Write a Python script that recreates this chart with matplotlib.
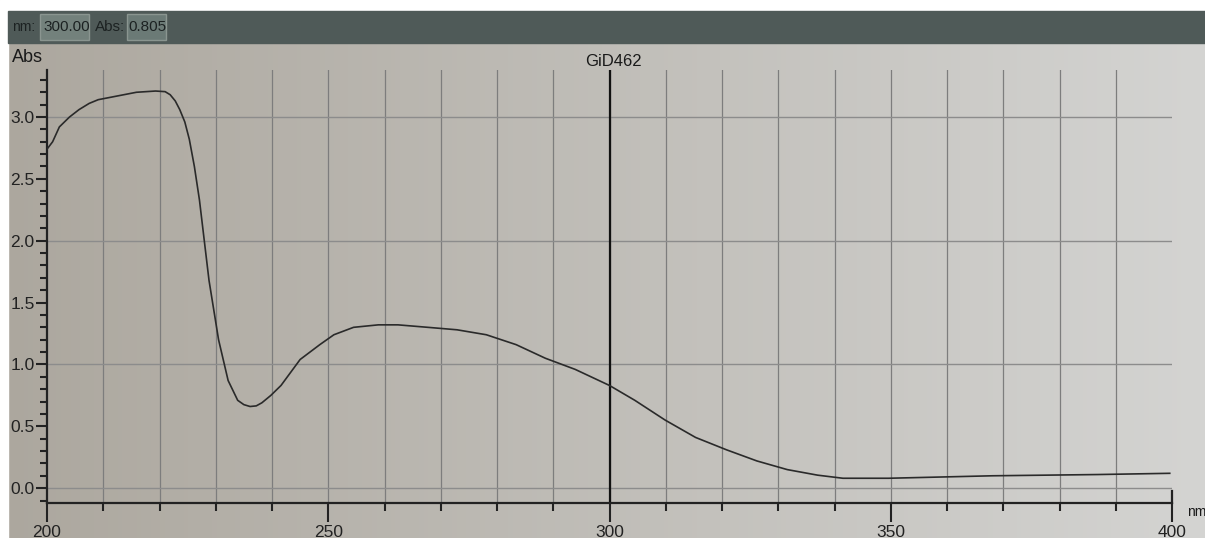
import numpy as np
import matplotlib
matplotlib.use("Agg")
import matplotlib.pyplot as plt
from matplotlib.patches import Rectangle

# spectrum
wl = [200.0, 201.0, 202.2, 204.0, 205.7, 207.5, 209.1, 212.5, 215.9, 219.3,
      221.0, 221.9, 222.8, 223.6, 224.5, 225.3, 226.2, 227.1, 228.8, 230.5,
      232.2, 233.9, 235.0, 236.1, 237.2, 238.2, 239.8, 241.6, 245.0, 248.5,
      251.0, 254.5, 258.9, 262.4, 267.7, 272.9, 278.1, 283.4, 288.6, 293.9,
      300.0, 304.5, 309.9, 315.3, 320.8, 326.2, 331.6, 337.0, 341.5, 349.6,
      368.1, 386.7, 399.6]
absb = [2.74, 2.80, 2.92, 3.00, 3.06, 3.11, 3.14, 3.17, 3.20, 3.21,
        3.205, 3.18, 3.13, 3.06, 2.96, 2.82, 2.60, 2.33, 1.68, 1.20,
        0.87, 0.71, 0.675, 0.66, 0.665, 0.69, 0.75, 0.83, 1.04, 1.16,
        1.24, 1.30, 1.32, 1.32, 1.30, 1.28, 1.24, 1.16, 1.05, 0.96,
        0.83, 0.71, 0.55, 0.41, 0.31, 0.22, 0.15, 0.105, 0.08, 0.08,
        0.10, 0.11, 0.12]

x_major = [200, 250, 300, 350, 400]
y_major = [0.0, 0.5, 1.0, 1.5, 2.0, 2.5, 3.0]
cursor_nm = "300.00"
cursor_abs = "0.805"
title = "GiD462"

plt.rcParams['font.family'] = ['Liberation Sans', 'DejaVu Sans']

W, H = 1205, 538
fig = plt.figure(figsize=(W / 100, H / 100), dpi=100)

# screen background (pixel coords)
bg = fig.add_axes([0, 0, 1, 1])
bg.set_xlim(0, W)
bg.set_ylim(H, 0)
bg.axis("off")
grad = np.linspace(0, 1, 256)
c0 = np.array([172, 167, 158]) / 255
c1 = np.array([212, 212, 210]) / 255
img = c0[None, None, :] * (1 - grad[None, :, None]) + c1[None, None, :] * grad[None, :, None]
bg.imshow(img, extent=[0, W, H, 0], aspect="auto", zorder=0)
bg.add_patch(Rectangle((0, 0), W, 11, color="white", zorder=1))
bg.add_patch(Rectangle((0, 0), 8, H, color="white", zorder=1))
bg.add_patch(Rectangle((8, 11), W - 8, 32, color="#4f5a58", zorder=1))
bg.add_patch(Rectangle((40, 14), 49, 26, facecolor="#73817c", edgecolor="#8a9590", lw=1, zorder=2))
bg.add_patch(Rectangle((127, 14), 39, 26, facecolor="#6b7a76", edgecolor="#8a9590", lw=1, zorder=2))
bg.text(12, 27, "nm:", fontsize=10, color="#1c2222", va="center", zorder=3)
bg.text(43, 27, cursor_nm, fontsize=11, color="#1c2222", va="center", zorder=3)
bg.text(95, 27, "Abs:", fontsize=11, color="#1c2222", va="center", zorder=3)
bg.text(128, 27, cursor_abs, fontsize=11, color="#1c2222", va="center", zorder=3)
bg.text(12, 58, "Abs", fontsize=13, color="#1a1a1a", va="center", zorder=3)
bg.text(1187, 512, "nm", fontsize=10, color="#1a1a1a", va="center", zorder=3)

ax = fig.add_axes([47 / W, 1 - 503 / H, (1172 - 47) / W, (503 - 70) / H])
ax.patch.set_alpha(0)
ax.plot(wl, absb, color="#2a2a2a", lw=1.2, zorder=3)
ax.set_xlim(200, 400)
ax.set_ylim(-0.12, 3.38)

ax.set_xticks(x_major)
ax.set_xticks(np.arange(200, 401, 10), minor=True)
ax.set_yticks(y_major)
ax.set_yticks(np.arange(-0.1, 3.35, 0.1), minor=True)
ax.set_yticklabels([f"{v:.1f}" for v in y_major])
ax.tick_params(axis="x", which="major", length=14, width=1.5, labelsize=12.5, pad=2, colors="#222")
ax.tick_params(axis="x", which="minor", length=6, width=1.5, colors="#222")
ax.tick_params(axis="y", which="major", length=8, width=1.5, labelsize=12.5, pad=1, colors="#222")
ax.tick_params(axis="y", which="minor", length=5, width=1.5, colors="#222")

for s in ["top", "right"]:
    ax.spines[s].set_visible(False)
for s in ["left", "bottom"]:
    ax.spines[s].set_linewidth(1.6)
    ax.spines[s].set_color("#222")

for v in np.arange(210, 400, 10):
    ax.axvline(v, color="#7d7d7d", lw=0.9, zorder=1)
for v in [0, 1, 2, 3]:
    ax.axhline(v, color="#8c8c8c", lw=1.0, zorder=1)
ax.axvline(300, color="#111", lw=1.6, zorder=2)
ax.plot([400, 400], [-0.12, -0.02], color="#222", lw=1.6, clip_on=False)

fig.text(613 / W, 1 - 62 / H, title, fontsize=12, ha="center", va="center", color="#1a1a1a")

fig.savefig("out.png", dpi=100)
